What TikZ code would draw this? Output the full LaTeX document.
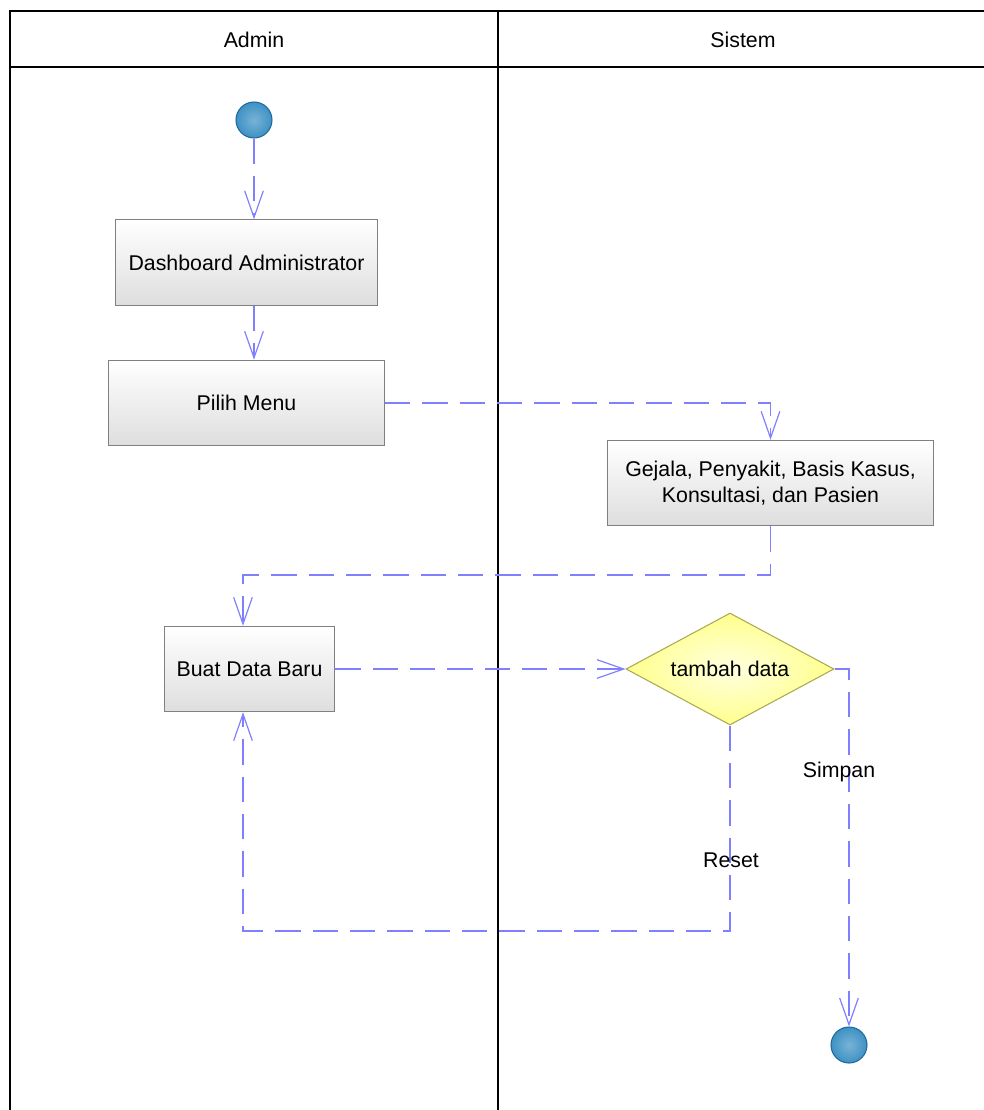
\documentclass[tikz,border=0pt]{standalone}
\usepackage{fontspec}
\setmainfont{Liberation Sans}
\usetikzlibrary{positioning, arrows.meta, shapes.geometric}
\definecolor{flowblue}{RGB}{128,128,255}
\definecolor{boxedge}{RGB}{128,128,128}
\definecolor{dotblue}{RGB}{62,146,196}
\definecolor{dotedge}{RGB}{32,104,160}
\definecolor{decedge}{RGB}{170,170,80}

\begin{document}
\begin{tikzpicture}[x=0.75pt,y=-0.75pt,node distance=0.6cm,>={Straight Barb[length=20pt,width=14pt]},
    actbox/.style={draw=boxedge, line width=0.8pt, top color=white, bottom color=black!13,
      minimum height=64pt, align=center, font=\fontsize{16}{20}\selectfont},
    decbox/.style={diamond, aspect=1.86, draw=decedge, line width=0.8pt, inner color=yellow!12, outer color=yellow!45!white,
      minimum width=156pt, minimum height=84pt, inner sep=0pt, font=\fontsize{16}{20}\selectfont},
    dot/.style={circle, draw=dotedge, line width=0.8pt, inner color=dotblue!70, outer color=dotblue,
      minimum size=27pt, inner sep=0pt},
    flow/.style={->, draw=flowblue, line width=0.9pt, dash pattern=on 19pt off 9pt},
    lane/.style={draw=black, line width=1.1pt},
    lbl/.style={font=\fontsize{16}{20}\selectfont}]
                \useasboundingbox (0,0) rectangle (983,1110);
                % Lanes
                \draw[lane] (10,1112) -- (10,11) -- (985,11);
                \draw[lane] (10,67) -- (985,67);
                \draw[lane] (498,11) -- (498,1112);
                \node[lbl] (AdminHead) at (254,40) {Admin};
                \node[lbl] (SistemHead) at (743,40) {Sistem};

                % Nodes
                \node[dot] (Start) at (254,120) {};
                \node[actbox, minimum width=197pt] (Dashboard) at (246.5,262.5) {Dashboard Administrator};
                \node[actbox, minimum width=207pt, below=40.5pt of Dashboard] (PilihMenu) {Pilih Menu};
                \node[actbox, minimum width=244pt] (DataMenu) at (770.5,483) {Gejala, Penyakit, Basis Kasus,\\Konsultasi, dan Pasien};
                \node[actbox, minimum width=128pt] (BuatData) at (249.5,669) {Buat Data Baru};
                \node[decbox] (TambahData) at (730,669) {tambah data};
                \node[dot] (End) at (849,1045) {};

                \coordinate (MenuBend) at (243,575);
                \coordinate (ResetBend) at (243,931);

                % Arrows
                \draw[flow] (Start) -- (Start |- Dashboard.north);
                \draw[flow] (Dashboard.south -| Start) -- (PilihMenu.north -| Start);
                \draw[flow] (PilihMenu.east) -| (DataMenu.north);
                \draw[flow] (DataMenu.south) |- (MenuBend) -- (MenuBend |- BuatData.north);
                \draw[flow] (BuatData.east) -- (TambahData.west);
                \draw[flow] (TambahData.south) |- (ResetBend) -- (ResetBend |- BuatData.south);
                \draw[flow] (TambahData.east) -| (End.north);

                \node[lbl] (ResetLabel) at (731,860) {Reset};
                \node[lbl] (SimpanLabel) at (839,772) {Simpan};
              \end{tikzpicture}
\end{document}
